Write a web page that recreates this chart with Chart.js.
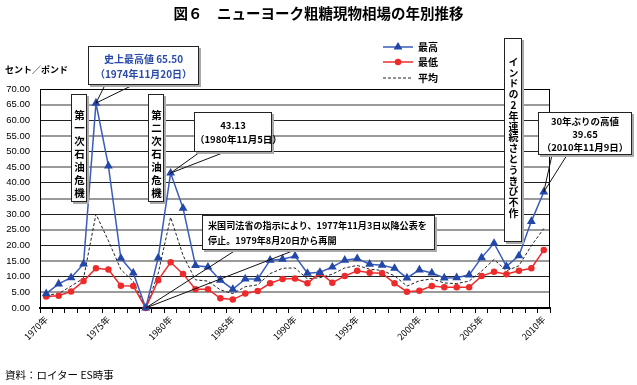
<!DOCTYPE html>
<html lang="ja">
<head>
<meta charset="utf-8">
<script src="https://cdn.jsdelivr.net/npm/chart.js@4"></script>
<style>
  body { margin: 0; background: #fff; }
  #wrap { position: relative; width: 637px; height: 385px; font-family: "Noto Sans CJK JP", sans-serif; color: #000; }
  #wrap canvas { position: absolute; left: 0; top: 0; }
  .txt { position: absolute; white-space: nowrap; line-height: 1; }
  .box { position: absolute; background: #fff; border: 1px solid #222; box-shadow: 2px 2px 0 #aaa; box-sizing: border-box; font-weight: bold; white-space: nowrap; }
  .vbox { writing-mode: vertical-rl; text-orientation: upright; text-align: left; overflow: hidden; }
</style>
</head>
<body>
<div id="wrap">
  <canvas id="sugarChart" width="637" height="385"></canvas>
  <div class="txt" style="left:0;width:637px;top:6px;text-align:center;font-size:14.5px;font-weight:bold;">図６　ニューヨーク粗糖現物相場の年別推移</div>
  <div class="txt" style="left:5px;top:65px;font-size:9px;font-weight:bold;">セント／ポンド</div>
  <div class="txt" style="left:5px;top:370px;font-size:10.5px;">資料：ロイター ES時事</div>

  <div class="box" style="left:88px;top:46px;width:111px;height:39px;color:#2a4aa8;font-size:10px;text-align:center;line-height:15px;padding-top:4px;">史上最高値 65.50<br>（1974年11月20日）</div>
  <div class="box vbox" style="left:71px;top:94px;width:16px;height:108px;font-size:10.5px;line-height:14px;letter-spacing:2.5px;padding-top:15px;">第一次石油危機</div>
  <div class="box vbox" style="left:148px;top:94px;width:16px;height:108px;font-size:10.5px;line-height:14px;letter-spacing:2.5px;padding-top:15px;">第二次石油危機</div>
  <div class="box" style="left:194px;top:112px;width:78px;height:40px;font-size:9.5px;text-align:center;line-height:14px;padding-top:5px;">43.13<br>（1980年11月5日）</div>
  <div class="box" style="left:202px;top:215px;width:233px;height:35px;font-size:9.1px;line-height:15px;padding:2px 0 0 5px;">米国司法省の指示により、1977年11月3日以降公表を<br>停止。1979年8月20日から再開</div>
  <div class="box vbox" style="left:504px;top:38px;width:18px;height:204px;font-size:10px;line-height:16px;letter-spacing:0.8px;padding-top:18px;">インドの2年連続さとうきび不作</div>
  <div class="box" style="left:538px;top:112px;width:94px;height:43px;font-size:9.5px;text-align:center;line-height:13px;padding-top:2px;">30年ぶりの高値<br>39.65<br>（2010年11月9日）</div>
</div>

<script>
// categories
const years = [
    '1970年', '1971年', '1972年', '1973年', '1974年', '1975年', '1976年', '1977年', '1978年', '1979年',
    '1980年', '1981年', '1982年', '1983年', '1984年', '1985年', '1986年', '1987年', '1988年', '1989年',
    '1990年', '1991年', '1992年', '1993年', '1994年', '1995年', '1996年', '1997年', '1998年', '1999年',
    '2000年', '2001年', '2002年', '2003年', '2004年', '2005年', '2006年', '2007年', '2008年', '2009年',
    '2010年'
];

// cents per pound
const highs = [
    4.6, 7.7, 9.7, 14.1, 65.5, 45.4, 15.9, 11.2, 0, 16.0,
    43.13, 31.9, 13.6, 13.1, 8.9, 6.0, 9.3, 9.3, 15.3, 15.6,
    16.6, 11.1, 11.4, 13.1, 15.3, 15.8, 14.0, 13.7, 12.7, 9.6,
    12.2, 11.2, 9.6, 9.7, 10.6, 16.1, 20.7, 13.3, 16.7, 27.7,
    37.1
];
const lows = [
    3.7, 3.9, 5.3, 8.6, 12.7, 12.3, 7.1, 7.0, 0, 8.9,
    14.6, 10.9, 6.0, 6.0, 3.1, 2.7, 4.6, 5.4, 7.9, 9.3,
    9.4, 7.9, 11.2, 8.1, 10.2, 11.9, 11.3, 11.1, 7.9, 5.2,
    5.5, 7.0, 6.6, 6.6, 6.6, 10.2, 11.6, 10.8, 11.9, 12.7,
    18.5
];
const avgs = [
    4.1, 4.6, 7.0, 9.5, 30.0, 21.5, 12.3, 8.5, 0, 11.0,
    29.0, 16.8, 9.0, 8.6, 5.8, 4.6, 6.8, 7.4, 11.0, 12.7,
    12.8, 9.3, 9.7, 10.8, 12.8, 13.6, 12.4, 12.0, 10.3, 7.0,
    8.7, 9.3, 8.0, 7.8, 8.6, 11.8, 15.5, 11.9, 13.5, 19.9,
    25.4
];

// callout pointers: data index + the two anchor points on the box edge
const callouts = [
    { series: highs, index: 4, from: [[105, 85], [133, 85]] },
    { series: highs, index: 10, from: [[200, 152], [225, 152]] },
    { series: highs, index: 8, from: [[236, 250], [295, 250]] },
    { series: highs, index: 40, from: [[552, 155], [567, 155]] }
];

const legendRows = [
    { label: '最高', y: 47 },
    { label: '最低', y: 62 },
    { label: '平均', y: 78 }
];

const decorations = {
    id: 'decorations',
    beforeDatasetsDraw(chart) {
        const { ctx, chartArea: a } = chart;
        ctx.save();
        ctx.strokeStyle = '#000';
        ctx.lineWidth = 1;
        ctx.strokeRect(a.left + 0.5, a.top + 0.5, a.right - a.left - 1, a.bottom - a.top);
        ctx.restore();
    },
    afterDraw(chart) {
        const { ctx } = chart;
        const x = chart.scales.x;
        const y = chart.scales.y;

        ctx.save();
        ctx.strokeStyle = '#111';
        ctx.lineWidth = 1;
        callouts.forEach(c => {
            const px = x.getPixelForValue(c.index);
            const py = y.getPixelForValue(c.series[c.index]);
            c.from.forEach(p => {
                ctx.beginPath();
                ctx.moveTo(p[0], p[1]);
                ctx.lineTo(px, py);
                ctx.stroke();
            });
        });

        // legend
        legendRows.forEach((row, i) => {
            const ds = chart.data.datasets[i];
            ctx.beginPath();
            ctx.strokeStyle = ds.borderColor;
            ctx.lineWidth = ds.borderWidth;
            ctx.setLineDash(ds.borderDash || []);
            ctx.moveTo(383, row.y);
            ctx.lineTo(413, row.y);
            ctx.stroke();
            ctx.setLineDash([]);
            if (ds.pointRadius > 0) {
                ctx.fillStyle = ds.pointBackgroundColor;
                ctx.strokeStyle = ds.pointBackgroundColor;
                Chart.helpers.drawPoint(ctx, { pointStyle: ds.pointStyle, radius: ds.pointRadius, rotation: 0, borderWidth: 1 }, 398, row.y);
            }
            ctx.fillStyle = '#000';
            ctx.font = 'bold 10px "Noto Sans CJK JP"';
            ctx.textBaseline = 'middle';
            ctx.fillText(row.label, 418, row.y);
        });
        ctx.restore();
    }
};

new Chart(document.getElementById('sugarChart'), {
    type: 'line',
    data: {
        labels: years,
        datasets: [
            {
                label: '最高',
                data: highs,
                borderColor: '#3a5cbc',
                borderWidth: 1.5,
                pointStyle: 'triangle',
                pointRadius: 3.6,
                pointBackgroundColor: '#2448a8',
                pointBorderColor: '#2448a8',
                tension: 0,
                clip: 6
            },
            {
                label: '最低',
                data: lows,
                borderColor: '#ee2b2b',
                borderWidth: 1.5,
                pointStyle: 'circle',
                pointRadius: 2.5,
                pointBackgroundColor: '#ee2b2b',
                pointBorderColor: '#ee2b2b',
                tension: 0,
                clip: 6
            },
            {
                label: '平均',
                data: avgs,
                borderColor: '#222',
                borderWidth: 1,
                borderDash: [3, 2],
                pointRadius: 0,
                tension: 0,
                clip: 6
            }
        ]
    },
    options: {
        responsive: false,
        animation: false,
        layout: { padding: { left: 0, right: 87, top: 89, bottom: 0 } },
        plugins: {
            legend: { display: false },
            tooltip: { enabled: false }
        },
        scales: {
            x: {
                offset: true,
                grid: { offset: true, drawOnChartArea: false, color: '#000', tickLength: 5 },
                border: { color: '#000', width: 2 },
                ticks: {
                    autoSkip: false,
                    maxRotation: 45,
                    minRotation: 45,
                    padding: 1,
                    color: '#000',
                    font: { family: '"Noto Sans CJK JP"', size: 9 },
                    callback: (v, i) => (i % 5 === 0 ? years[i] : '')
                },
                afterFit: s => { s.height = 77; }
            },
            y: {
                min: 0,
                max: 70,
                grid: {
                    drawTicks: false,
                    color: c => (c.tick.value % 10 === 0 ? '#222' : '#9a9a9a'),
                    lineWidth: c => (c.tick.value % 10 === 0 ? 1 : 2)
                },
                border: { color: '#000', width: 1 },
                ticks: {
                    stepSize: 5,
                    padding: 10,
                    color: '#000',
                    font: { family: 'Liberation Sans', size: 9.5 },
                    callback: v => v.toFixed(2)
                },
                afterFit: s => { s.width = 40; }
            }
        }
    },
    plugins: [decorations]
});
</script>
</body>
</html>
